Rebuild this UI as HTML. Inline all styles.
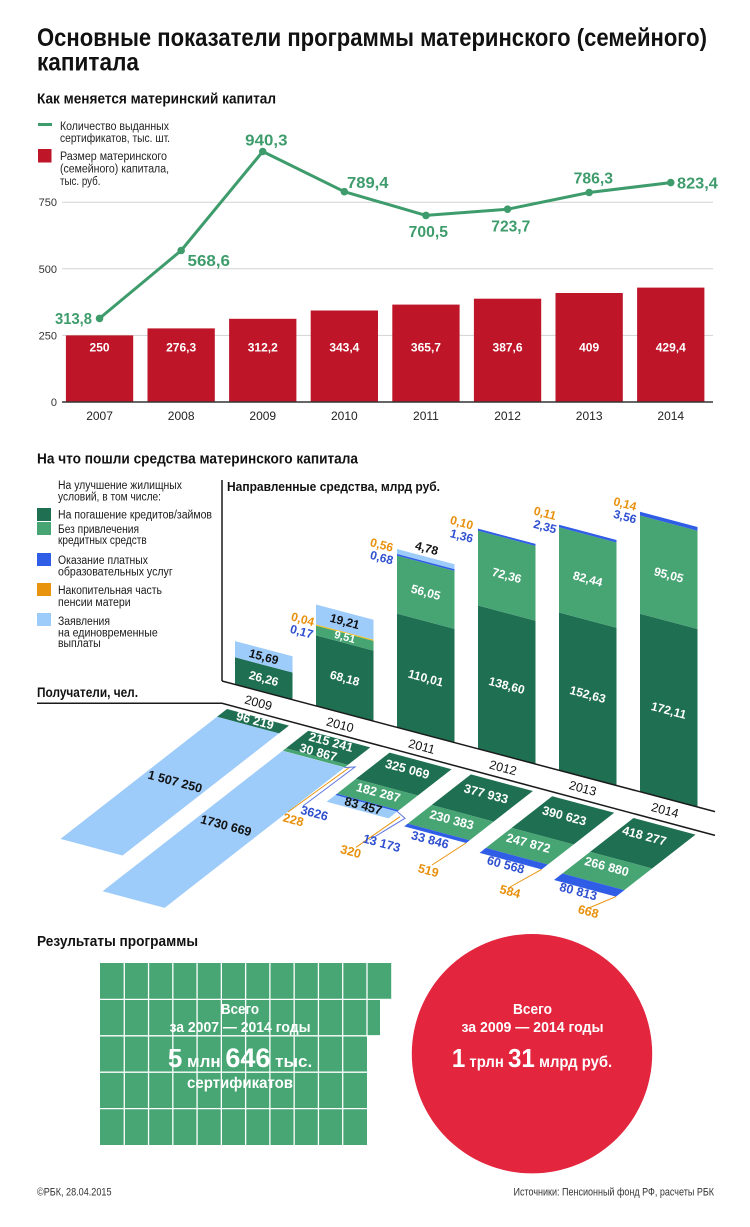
<!DOCTYPE html>
<html><head><meta charset="utf-8">
<style>
html,body{margin:0;padding:0;background:#fff;}
svg{display:block;}
text{font-family:"Liberation Sans",sans-serif;}
.b{font-weight:bold;}
</style></head><body>
<svg width="750" height="1227" viewBox="0 0 750 1227" xmlns="http://www.w3.org/2000/svg">
<rect width="750" height="1227" fill="#fff"/>

<!-- TITLE -->
<text x="37" y="46" class="b" font-size="25" fill="#111" textLength="670" lengthAdjust="spacingAndGlyphs">Основные показатели программы материнского (семейного)</text>
<text x="37" y="70.5" class="b" font-size="25" fill="#111" textLength="102" lengthAdjust="spacingAndGlyphs">капитала</text>
<text x="37" y="103.5" class="b" font-size="15" fill="#111" textLength="239" lengthAdjust="spacingAndGlyphs">Как меняется материнский капитал</text>

<!-- Top legend -->
<rect x="38" y="123" width="14" height="3" fill="#3e9c6c"/>
<text x="60" y="130" font-size="11.5" fill="#222" textLength="109" lengthAdjust="spacingAndGlyphs">Количество выданных</text>
<text x="60" y="142" font-size="11.5" fill="#222" textLength="110" lengthAdjust="spacingAndGlyphs">сертификатов, тыс. шт.</text>
<rect x="38" y="149" width="13.5" height="13.5" fill="#be1628"/>
<text x="60" y="160" font-size="11.5" fill="#222" textLength="107" lengthAdjust="spacingAndGlyphs">Размер материнского</text>
<text x="60" y="172.5" font-size="11.5" fill="#222" textLength="109" lengthAdjust="spacingAndGlyphs">(семейного) капитала,</text>
<text x="60" y="185" font-size="11.5" fill="#222" textLength="40.5" lengthAdjust="spacingAndGlyphs">тыс. руб.</text>

<!-- Grid -->
<g stroke="#d2d2d2" stroke-width="1">
<line x1="62" y1="202.2" x2="713" y2="202.2"/>
<line x1="62" y1="268.8" x2="713" y2="268.8"/>
<line x1="62" y1="335.4" x2="713" y2="335.4"/>
</g>
<g font-size="11" fill="#333" text-anchor="end">
<text x="57" y="206">750</text>
<text x="57" y="273">500</text>
<text x="57" y="339.5">250</text>
<text x="57" y="406">0</text>
</g>

<!-- Bars -->
<g fill="#be1628">
<rect x="65.9" y="335.4" width="67.3" height="66.6"/>
<rect x="147.5" y="328.4" width="67.3" height="73.6"/>
<rect x="229.1" y="318.8" width="67.3" height="83.2"/>
<rect x="310.7" y="310.5" width="67.3" height="91.5"/>
<rect x="392.3" y="304.6" width="67.3" height="97.4"/>
<rect x="473.9" y="298.7" width="67.3" height="103.3"/>
<rect x="555.5" y="293.0" width="67.3" height="109.0"/>
<rect x="637.1" y="287.6" width="67.3" height="114.4"/>
</g>
<line x1="62" y1="402" x2="713" y2="402" stroke="#333" stroke-width="1.5"/>
<g class="b" font-size="12" fill="#fff" text-anchor="middle">
<text x="99.55" y="351.5">250</text>
<text x="181.15" y="351.5">276,3</text>
<text x="262.75" y="351.5">312,2</text>
<text x="344.35" y="351.5">343,4</text>
<text x="425.95" y="351.5">365,7</text>
<text x="507.55" y="351.5">387,6</text>
<text x="589.15" y="351.5">409</text>
<text x="670.75" y="351.5">429,4</text>
</g>
<g font-size="12" fill="#222" text-anchor="middle">
<text x="99.55" y="420">2007</text>
<text x="181.15" y="420">2008</text>
<text x="262.75" y="420">2009</text>
<text x="344.35" y="420">2010</text>
<text x="425.95" y="420">2011</text>
<text x="507.55" y="420">2012</text>
<text x="589.15" y="420">2013</text>
<text x="670.75" y="420">2014</text>
</g>

<!-- Line -->
<polyline fill="none" stroke="#3e9c6c" stroke-width="3" stroke-linejoin="round" points="99.55,318.4 181.15,250.5 262.75,151.5 344.35,191.7 425.95,215.4 507.55,209.2 589.15,192.5 670.75,182.6"/>
<g fill="#3e9c6c">
<circle cx="99.55" cy="318.4" r="3.8"/>
<circle cx="181.15" cy="250.5" r="3.8"/>
<circle cx="262.75" cy="151.5" r="3.8"/>
<circle cx="344.35" cy="191.7" r="3.8"/>
<circle cx="425.95" cy="215.4" r="3.8"/>
<circle cx="507.55" cy="209.2" r="3.8"/>
<circle cx="589.15" cy="192.5" r="3.8"/>
<circle cx="670.75" cy="182.6" r="3.8"/>
</g>
<g class="b" font-size="15.5" fill="#3e9c6c">
<text x="55" y="324" textLength="37" lengthAdjust="spacingAndGlyphs">313,8</text>
<text x="187.5" y="266" textLength="42.5" lengthAdjust="spacingAndGlyphs">568,6</text>
<text x="245.2" y="145.5" textLength="42.3" lengthAdjust="spacingAndGlyphs">940,3</text>
<text x="347" y="188" textLength="41.5" lengthAdjust="spacingAndGlyphs">789,4</text>
<text x="408.7" y="237" textLength="39.3" lengthAdjust="spacingAndGlyphs">700,5</text>
<text x="491.3" y="231.5" textLength="39" lengthAdjust="spacingAndGlyphs">723,7</text>
<text x="573.6" y="183.5" textLength="39.4" lengthAdjust="spacingAndGlyphs">786,3</text>
<text x="677" y="188.5" textLength="40.8" lengthAdjust="spacingAndGlyphs">823,4</text>
</g>

<!-- SECTION 2 -->
<text x="37" y="463.5" class="b" font-size="15" fill="#111" textLength="321" lengthAdjust="spacingAndGlyphs">На что пошли средства материнского капитала</text>

<g font-size="11.5" fill="#1a1a1a">
<text x="58" y="489" textLength="124" lengthAdjust="spacingAndGlyphs">На улучшение жилищных</text>
<text x="58" y="500.5" textLength="103" lengthAdjust="spacingAndGlyphs">условий, в том числе:</text>
<text x="58" y="518.5" textLength="154" lengthAdjust="spacingAndGlyphs">На погашение кредитов/займов</text>
<text x="58" y="533" textLength="81" lengthAdjust="spacingAndGlyphs">Без привлечения</text>
<text x="58" y="544" textLength="88.7" lengthAdjust="spacingAndGlyphs">кредитных средств</text>
<text x="58" y="564" textLength="90" lengthAdjust="spacingAndGlyphs">Оказание платных</text>
<text x="58" y="575.5" textLength="114.7" lengthAdjust="spacingAndGlyphs">образовательных услуг</text>
<text x="58" y="594" textLength="104" lengthAdjust="spacingAndGlyphs">Накопительная часть</text>
<text x="58" y="606" textLength="72.7" lengthAdjust="spacingAndGlyphs">пенсии матери</text>
<text x="58" y="625" textLength="52" lengthAdjust="spacingAndGlyphs">Заявления</text>
<text x="58" y="636.5" textLength="99.7" lengthAdjust="spacingAndGlyphs">на единовременные</text>
<text x="58" y="647" textLength="42.7" lengthAdjust="spacingAndGlyphs">выплаты</text>
</g>
<rect x="37" y="508" width="14" height="13" fill="#1f6f52"/>
<rect x="37" y="522" width="14" height="13" fill="#47a473"/>
<rect x="37" y="553" width="14" height="13" fill="#2f5de6"/>
<rect x="37" y="583" width="14" height="13" fill="#e8940f"/>
<rect x="37" y="613" width="14" height="13" fill="#9dcbfa"/>

<text x="227" y="491" class="b" font-size="12.5" fill="#111" textLength="213" lengthAdjust="spacingAndGlyphs">Направленные средства, млрд руб.</text>

<!-- 3D top bars -->
<!-- 2009 -->
<polygon fill="#1f6f52" points="235,684.45 292.5,699.68 292.5,672.53 235,657.3"/>
<polygon fill="#9dcbfa" points="235,657.3 292.5,672.53 292.5,656.31 235,641.08"/>
<!-- 2010 -->
<polygon fill="#1f6f52" points="316,705.91 373.5,721.15 373.5,650.65 316,635.41"/>
<polygon fill="#47a473" points="316,635.41 373.5,650.65 373.5,640.82 316,625.58"/>
<polygon fill="#f0c020" points="316,625.58 373.5,640.82 373.5,639.62 316,624.38"/>
<polygon fill="#9dcbfa" points="316,624.38 373.5,639.62 373.5,619.76 316,604.52"/>
<!-- 2011 -->
<polygon fill="#1f6f52" points="397,727.38 454.5,742.61 454.5,628.86 397,613.63"/>
<polygon fill="#47a473" points="397,613.63 454.5,628.86 454.5,570.9 397,555.67"/>
<polygon fill="#2f5de6" points="397,555.67 454.5,570.9 454.5,569.13 397,553.9"/>
<polygon fill="#9dcbfa" points="397,553.9 454.5,569.13 454.5,564.19 397,548.96"/>
<!-- 2012 -->
<polygon fill="#1f6f52" points="478,748.84 535.5,764.08 535.5,620.77 478,605.53"/>
<polygon fill="#47a473" points="478,605.53 535.5,620.77 535.5,545.95 478,530.71"/>
<polygon fill="#2f5de6" points="478,530.71 535.5,545.95 535.5,543.9 478,528.66"/>
<!-- 2013 -->
<polygon fill="#1f6f52" points="559,770.31 616.5,785.54 616.5,627.72 559,612.49"/>
<polygon fill="#47a473" points="559,612.49 616.5,627.72 616.5,542.48 559,527.25"/>
<polygon fill="#2f5de6" points="559,527.25 616.5,542.48 616.5,539.94 559,524.71"/>
<!-- 2014 -->
<polygon fill="#1f6f52" points="640,791.77 697.5,807.01 697.5,629.05 640,613.81"/>
<polygon fill="#47a473" points="640,613.81 697.5,629.05 697.5,530.77 640,515.53"/>
<polygon fill="#2f5de6" points="640,515.53 697.5,530.77 697.5,526.94 640,511.7"/>

<!-- axis lines -->
<g stroke="#1a1a1a" stroke-width="1.5" fill="none">
<line x1="222" y1="480" x2="222" y2="681"/>
<line x1="222" y1="681" x2="715" y2="811.6"/>
<polyline points="37,703.3 222,703.3 715,835.4"/>
</g>

<!-- bar labels -->
<g class="b" font-size="12" text-anchor="middle" dominant-baseline="central">
<text fill="#fff" transform="translate(263.75,678.5) rotate(15)">26,26</text>
<text fill="#111" transform="translate(263.75,656.8) rotate(15)">15,69</text>
<text fill="#fff" transform="translate(344.75,678.3) rotate(15)">68,18</text>
<text fill="#fff" font-size="11" transform="translate(344.75,637.5) rotate(15)">9,51</text>
<text fill="#111" transform="translate(344.75,621.5) rotate(15)">19,21</text>
<text fill="#fff" transform="translate(425.75,678.1) rotate(15)">110,01</text>
<text fill="#fff" transform="translate(425.75,592.3) rotate(15)">56,05</text>
<text fill="#111" transform="translate(426.7,548.3) rotate(15)">4,78</text>
<text fill="#fff" transform="translate(506.75,685.5) rotate(15)">138,60</text>
<text fill="#fff" transform="translate(506.75,575.5) rotate(15)">72,36</text>
<text fill="#fff" transform="translate(587.75,694.5) rotate(15)">152,63</text>
<text fill="#fff" transform="translate(587.75,579) rotate(15)">82,44</text>
<text fill="#fff" transform="translate(668.75,710.5) rotate(15)">172,11</text>
<text fill="#fff" transform="translate(668.75,575) rotate(15)">95,05</text>

<text fill="#e8900c" transform="translate(302.7,619.3) rotate(15)">0,04</text>
<text fill="#2f50d0" transform="translate(301.7,631.7) rotate(15)">0,17</text>
<text fill="#e8900c" transform="translate(381.7,545) rotate(15)">0,56</text>
<text fill="#2f50d0" transform="translate(381.7,557.7) rotate(15)">0,68</text>
<text fill="#e8900c" transform="translate(461.7,522.7) rotate(15)">0,10</text>
<text fill="#2f50d0" transform="translate(461.7,536) rotate(15)">1,36</text>
<text fill="#e8900c" transform="translate(545,513.3) rotate(15)">0,11</text>
<text fill="#2f50d0" transform="translate(545,526.7) rotate(15)">2,35</text>
<text fill="#e8900c" transform="translate(625,504) rotate(15)">0,14</text>
<text fill="#2f50d0" transform="translate(625,516.7) rotate(15)">3,56</text>
</g>

<!-- years in band -->
<g font-size="12.5" fill="#111" text-anchor="middle" dominant-baseline="central">
<text transform="translate(258.3,703) rotate(15)">2009</text>
<text transform="translate(340,725) rotate(15)">2010</text>
<text transform="translate(421.7,746.7) rotate(15)">2011</text>
<text transform="translate(503,768) rotate(15)">2012</text>
<text transform="translate(582.7,788.5) rotate(15)">2013</text>
<text transform="translate(665,810.5) rotate(15)">2014</text>
</g>

<text x="37" y="697" class="b" font-size="14" fill="#111" textLength="101" lengthAdjust="spacingAndGlyphs">Получатели, чел.</text>

<!-- Lower strips -->
<!-- 2009 -->
<polygon fill="#1f6f52" points="227,709 289,725.6 279.01,733.39 217.01,716.79"/>
<polygon fill="#9dcbfa" points="217.01,716.79 279.01,733.39 122.5,855.48 60.5,838.88"/>
<!-- 2010 -->
<polygon fill="#1f6f52" points="308.3,730.8 370.3,747.4 347.95,764.83 285.95,748.23"/>
<polygon fill="#47a473" points="285.95,748.23 347.95,764.83 344.74,767.33 282.74,750.73"/>
<polygon fill="#9dcbfa" points="282.54,750.9 344.54,767.5 164.63,907.82 102.63,891.22"/>
<!-- 2011 -->
<polygon fill="#1f6f52" points="389.6,752.6 451.6,769.2 417.84,795.53 355.84,778.93"/>
<polygon fill="#47a473" points="355.84,778.93 417.84,795.53 398.91,810.3 336.91,793.7"/>
<polygon fill="#2f5de6" points="336.91,793.7 398.91,810.3 397.3,811.6 335.3,795.0"/>
<polygon fill="#9dcbfa" points="335.3,795.0 397.3,811.6 388.63,818.36 326.63,801.76"/>
<!-- 2012 -->
<polygon fill="#1f6f52" points="470.9,774.4 532.9,791.0 493.65,821.61 431.65,805.01"/>
<polygon fill="#47a473" points="431.65,805.01 493.65,821.61 469.73,840.27 407.73,823.67"/>
<polygon fill="#2f5de6" points="407.73,823.67 469.73,840.27 466.22,843.01 404.22,826.41"/>
<!-- 2013 -->
<polygon fill="#1f6f52" points="552.2,796.2 614.2,812.8 573.64,844.44 511.64,827.84"/>
<polygon fill="#47a473" points="511.64,827.84 573.64,844.44 547.9,864.52 485.9,847.92"/>
<polygon fill="#2f5de6" points="485.9,847.92 547.9,864.52 541.61,869.43 479.61,852.83"/>
<!-- 2014 -->
<polygon fill="#1f6f52" points="633.5,818 695.5,834.6 652.07,868.48 590.07,851.88"/>
<polygon fill="#47a473" points="590.07,851.88 652.07,868.48 624.36,890.1 562.36,873.5"/>
<polygon fill="#2f5de6" points="562.36,873.5 624.36,890.1 615.97,896.65 553.97,880.05"/>

<!-- leader lines -->
<g stroke-width="1" fill="none">
<polyline stroke="#e8940f" points="350,767 288,812"/>
<polyline stroke="#5a74e0" points="344.5,767.5 355,767 303,806"/>
<polyline stroke="#e8940f" points="400,816.7 356,847.3"/>
<polyline stroke="#5a74e0" points="397.3,811.6 405,818.3 369.3,840"/>
<polyline stroke="#e8940f" points="466,843 432,865"/>
<polyline stroke="#e8940f" points="541.6,869.4 510,887"/>
<polyline stroke="#e8940f" points="616,896.6 589,908"/>
</g>

<!-- strip labels -->
<g class="b" font-size="12.5" text-anchor="middle" dominant-baseline="central">
<text fill="#fff" transform="translate(255,720.7) rotate(15)">96 219</text>
<text fill="#fff" transform="translate(331,742.3) rotate(15)">215 241</text>
<text fill="#fff" transform="translate(318.3,752.5) rotate(15)">30 867</text>
<text fill="#fff" transform="translate(407.3,769.3) rotate(15)">325 069</text>
<text fill="#fff" transform="translate(378.3,792.7) rotate(15)">182 287</text>
<text fill="#fff" transform="translate(486,794) rotate(15)">377 933</text>
<text fill="#fff" transform="translate(451.7,820) rotate(15)">230 383</text>
<text fill="#fff" transform="translate(564.3,816) rotate(15)">390 623</text>
<text fill="#fff" transform="translate(528.3,843.3) rotate(15)">247 872</text>
<text fill="#fff" transform="translate(644.3,836) rotate(15)">418 277</text>
<text fill="#fff" transform="translate(606.7,866.7) rotate(15)">266 880</text>

<text fill="#111" transform="translate(175,781.7) rotate(15)">1 507 250</text>
<text fill="#111" transform="translate(226,825.7) rotate(15)">1730 669</text>
<text fill="#111" transform="translate(363.3,806) rotate(15)">83 457</text>

<text fill="#2f50d0" transform="translate(314.3,813.3) rotate(15)">3626</text>
<text fill="#2f50d0" transform="translate(381.7,843.3) rotate(15)">13 173</text>
<text fill="#2f50d0" transform="translate(430,840) rotate(15)">33 846</text>
<text fill="#2f50d0" transform="translate(505.7,865) rotate(15)">60 568</text>
<text fill="#2f50d0" transform="translate(578.3,891.7) rotate(15)">80 813</text>

<text fill="#e8900c" transform="translate(293.3,820) rotate(15)">228</text>
<text fill="#e8900c" transform="translate(350.7,851.7) rotate(15)">320</text>
<text fill="#e8900c" transform="translate(428.3,870.7) rotate(15)">519</text>
<text fill="#e8900c" transform="translate(510,891.7) rotate(15)">584</text>
<text fill="#e8900c" transform="translate(588.3,911.7) rotate(15)">668</text>
</g>

<!-- RESULTS -->
<text x="37" y="946" class="b" font-size="15" fill="#111" textLength="161" lengthAdjust="spacingAndGlyphs">Результаты программы</text>

<polygon fill="#47a673" points="100,963 391.2,963 391.2,999.4 380,999.4 380,1035.8 367,1035.8 367,1145 100,1145"/>
<g stroke="#fff" stroke-width="1.3">
<line x1="124.27" y1="963" x2="124.27" y2="1145"/>
<line x1="148.54" y1="963" x2="148.54" y2="1145"/>
<line x1="172.81" y1="963" x2="172.81" y2="1145"/>
<line x1="197.08" y1="963" x2="197.08" y2="1145"/>
<line x1="221.35" y1="963" x2="221.35" y2="1145"/>
<line x1="245.62" y1="963" x2="245.62" y2="1145"/>
<line x1="269.89" y1="963" x2="269.89" y2="1145"/>
<line x1="294.16" y1="963" x2="294.16" y2="1145"/>
<line x1="318.43" y1="963" x2="318.43" y2="1145"/>
<line x1="342.7" y1="963" x2="342.7" y2="1145"/>
<line x1="367" y1="963" x2="367" y2="1035.8"/>
<line x1="100" y1="999.4" x2="391.2" y2="999.4"/>
<line x1="100" y1="1035.8" x2="380" y2="1035.8"/>
<line x1="100" y1="1072.2" x2="367" y2="1072.2"/>
<line x1="100" y1="1108.6" x2="367" y2="1108.6"/>
</g>
<g class="b" fill="#fff" text-anchor="middle">
<text x="240" y="1014" font-size="15" textLength="38" lengthAdjust="spacingAndGlyphs">Всего</text>
<text x="240" y="1032" font-size="15" textLength="141" lengthAdjust="spacingAndGlyphs">за 2007 — 2014 годы</text>
<text x="240" y="1067"><tspan font-size="26">5</tspan><tspan font-size="17"> млн </tspan><tspan font-size="27">646</tspan><tspan font-size="17"> тыс.</tspan></text>
<text x="240" y="1088" font-size="16" textLength="106" lengthAdjust="spacingAndGlyphs">сертификатов</text>
</g>

<ellipse cx="532" cy="1053.7" rx="120.2" ry="119.7" fill="#e3253e"/>
<g class="b" fill="#fff" text-anchor="middle">
<text x="532.5" y="1014" font-size="15" textLength="39" lengthAdjust="spacingAndGlyphs">Всего</text>
<text x="532.5" y="1032" font-size="15" textLength="142" lengthAdjust="spacingAndGlyphs">за 2009 — 2014 годы</text>
<text transform="translate(532,1067) scale(0.93,1)"><tspan font-size="26">1</tspan><tspan font-size="16"> трлн </tspan><tspan font-size="26">31</tspan><tspan font-size="16"> млрд руб.</tspan></text>
</g>

<!-- footer -->
<text x="37" y="1195.5" font-size="11" fill="#333" textLength="74.5" lengthAdjust="spacingAndGlyphs">©РБК, 28.04.2015</text>
<text x="513.5" y="1195.5" font-size="11" fill="#333" textLength="200.5" lengthAdjust="spacingAndGlyphs">Источники: Пенсионный фонд РФ, расчеты РБК</text>
</svg>
</body></html>
